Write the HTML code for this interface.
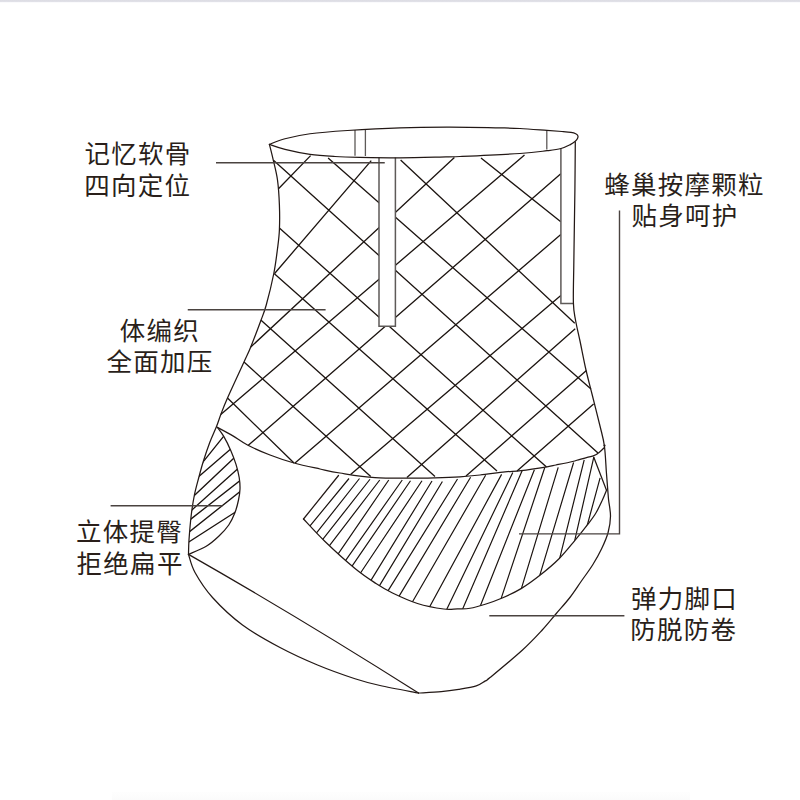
<!DOCTYPE html>
<html lang="zh"><head><meta charset="utf-8"><title>diagram</title>
<style>
html,body{margin:0;padding:0;background:#fff;font-family:"Liberation Sans",sans-serif;}
#wrap{position:relative;width:800px;height:800px;overflow:hidden;background:#fff;}
#topbar{position:absolute;left:0;top:0;width:800px;height:3px;background:linear-gradient(#dcdce3 0,#e1e1e8 1.7px,#fafafc 2.5px,#ffffff 3px);}
#botbar{position:absolute;left:112px;top:792px;width:578px;height:8px;background:linear-gradient(#fefefe,#fbfbfb);}
svg{position:absolute;left:0;top:0;display:block}
</style></head><body>
<div id="wrap">
<div id="topbar"></div><div id="botbar"></div>
<svg role="img" aria-label="塑身裤结构示意图" width="800" height="800" viewBox="0 0 800 800">
<defs><clipPath id="padclip"><path d="M338.5 470L303.5 519C307.08 522.75 316.42 533.25 325 541.5C333.58 549.75 346.5 561.5 355 568.5C363.5 575.5 369.75 579.42 376 583.5C382.25 587.58 385.58 589.67 392.5 593C399.42 596.33 408.96 600.83 417.5 603.5C426.04 606.17 437.08 608.12 443.75 609C450.42 609.88 453.12 608.92 457.5 608.8C461.88 608.67 465.25 609.05 470 608.25C474.75 607.45 480.73 605.66 486 604C491.27 602.34 495.75 600.87 501.6 598.3C507.45 595.73 514.6 592.52 521.1 588.6C527.6 584.68 534.23 579.77 540.6 574.75C546.97 569.73 553.61 564.19 559.3 558.5C564.99 552.81 570.01 546.28 574.75 540.6C579.49 534.92 584.23 529 587.75 524.4C591.27 519.8 593.46 517.07 595.9 513C598.34 508.93 600.63 503.8 602.4 500C604.17 496.2 605.82 491.83 606.5 490.2L593.8 452Z"/></clipPath><clipPath id="hipclip"><path d="M216.5 426.5C215.38 429.17 211.97 436.62 209.75 442.5C207.53 448.38 205.02 455.92 203.2 461.75C201.38 467.58 200.27 471.96 198.8 477.5C197.33 483.04 195.66 488.75 194.4 495C193.14 501.25 192.15 507.5 191.25 515C190.35 522.5 189.46 533.43 189 540C188.54 546.57 188.58 552 188.5 554.4C191.46 553.04 201.21 549.27 206.25 546.25C211.29 543.23 215 539.79 218.75 536.25C222.5 532.71 226.04 528.96 228.75 525C231.46 521.04 233.38 516.67 235 512.5C236.62 508.33 237.67 503.92 238.5 500C239.33 496.08 239.88 492.75 240 489C240.12 485.25 239.87 481.6 239.2 477.5C238.53 473.4 237.41 468.92 236 464.4C234.59 459.88 232.79 455.07 230.75 450.4C228.71 445.73 225.99 440.25 223.75 436.4C221.51 432.55 218.38 428.82 217.3 427.3Z"/></clipPath></defs>
<g fill="none" stroke="#1c1410" stroke-width="1.32" stroke-linecap="butt">
<path d="M273.75 160.6L598 453M328.1 158.1L591 389M279.4 228L546.5 467M274.4 273.75L497 471M260.8 320L435 476.5M400.6 160L574.75 323.25M481 158L560.8 221.75M244 362L370.75 476.6M227.5 398L294 463M278.5 188.75L310.6 155.6M274.4 273.75L371.25 160.6M250.75 347L454.4 157.5M220.75 414.5L524.5 155M248 445.5L560.8 173.75M295 463L560.8 234.5M350.6 474.4L560.8 295.5M406.9 477.6L575.2 328.8M466 476L586.4 370.4M517 471L593.6 404"/>
</g>
<g fill="none" stroke="#1c1410" stroke-width="1.2">
<path stroke-width="1.35" clip-path="url(#hipclip)" d="M201.32 464.09L224.78 434.91M196.53 478.57L231.27 448.43M192.22 497.56L235.08 457.04M190.27 511.4L238.63 468M188.89 520.6L240.66 480.15M187.65 533.11L240.45 491.24M186.48 543.52L236.27 511.48"/>
<path clip-path="url(#padclip)" d="M349 478.5L306.94 529.63M359.5 478.5L313.78 536.46M370 479.25L319.8 543.22M379.75 480L326.6 549.26M388.75 480L335.11 558.45M402.25 480L341.8 565.91M410.5 480.75L348.61 571.2M422 480.75L357.67 577.24M432 481L369.11 583.36M442.4 481.5L378.15 587.89M457.5 479L387.83 591.1M470.6 477.2L397.91 598.14M485.6 475.3L410.5 605.19M501.6 474.4L427.44 610.87M512.8 472.5L444.59 613.8M522.2 470.6L461.73 611.11M534.4 469.7L479.69 607.48M544.7 467.8L500.6 600.09M558.2 467.3L520.46 591.64M573.6 462.5L538.28 580.45M584.2 459.9L557.55 566.82M593.8 457.2L573.16 547.35M600.1 477.9L585.83 530.49"/>
</g>
<g fill="#fff" stroke="#5e5a58" stroke-width="1.5" stroke-linejoin="miter">
<path d="M379 157.4V326.2H395.4V157.6"/>
<path d="M560.9 148.6V303.4H573.6"/>
</g>
<g fill="none" stroke="#5e5a58" stroke-width="1.3">
<path d="M355 129.9L355 155.7M365.4 129.5L365.4 155.9M546.8 130.6L546.8 149.6"/>
</g>
<g fill="none" stroke="#231815" stroke-width="1.25" stroke-linejoin="round" stroke-linecap="round">
<path d="M269.4 144.4C272 143.46 278.23 140.53 285 138.75C291.77 136.97 299.58 135.12 310 133.75C320.42 132.38 332.5 131.49 347.5 130.5C362.5 129.51 382.92 128.35 400 127.8C417.08 127.25 433.33 127.18 450 127.2C466.67 127.22 488.33 127.68 500 127.9C511.67 128.12 512.17 128.08 520 128.5C527.83 128.92 540 129.9 547 130.4C554 130.9 558 131.17 562 131.5C566 131.83 568.72 132.03 571 132.4C573.28 132.77 574.55 133.12 575.7 133.7C576.85 134.28 577.6 135.1 577.9 135.9C578.2 136.7 577.93 137.6 577.5 138.5C577.07 139.4 576.5 140.28 575.3 141.3C574.1 142.32 572.68 143.4 570.3 144.6C567.92 145.8 564.88 147.48 561 148.5C557.12 149.52 553.83 149.87 547 150.7C540.17 151.53 534.5 152.53 520 153.5C505.5 154.47 473.33 155.9 460 156.5C446.67 157.1 450 156.89 440 157.1C430 157.31 413.33 157.72 400 157.75C386.67 157.78 370.83 157.51 360 157.3C349.17 157.09 343.33 156.98 335 156.5C326.67 156.02 318.33 155.58 310 154.4C301.67 153.22 291.77 151.07 285 149.4C278.23 147.73 272 145.23 269.4 144.4"/>
<path d="M269.4 144.4C270.02 146.9 271.75 153.47 273.1 159.4C274.45 165.33 276.45 172.4 277.5 180C278.55 187.6 279.08 196.67 279.4 205C279.72 213.33 279.72 222.71 279.4 230C279.08 237.29 278.44 241.46 277.5 248.75C276.56 256.04 275.62 264.38 273.75 273.75C271.88 283.12 268.43 297.12 266.25 305C264.07 312.88 263.28 314 260.7 321C258.12 328 253.53 340.17 250.75 347C247.97 353.83 247.88 353.5 244 362C240.12 370.5 231.33 389.33 227.5 398C223.67 406.67 222.83 409.25 221 414C219.17 418.75 218.38 421.75 216.5 426.5C214.62 431.25 211.97 436.62 209.75 442.5C207.53 448.38 205.02 455.92 203.2 461.75C201.38 467.58 200.27 471.96 198.8 477.5C197.33 483.04 195.66 488.75 194.4 495C193.14 501.25 192.15 507.5 191.25 515C190.35 522.5 189.46 533.43 189 540C188.54 546.57 188.58 552 188.5 554.4"/>
<path d="M575.3 142C575.23 150 575.07 175.33 574.9 190C574.73 204.67 574.48 217.5 574.3 230C574.12 242.5 573.95 252.83 573.8 265C573.65 277.17 573.12 293.83 573.4 303C573.68 312.17 574.4 313.67 575.5 320C576.6 326.33 578.25 332.67 580 341C581.75 349.33 584 361.17 586 370C588 378.83 589.67 384.67 592 394C594.33 403.33 597.93 417.33 600 426C602.07 434.67 603.33 438.25 604.4 446C605.47 453.75 605.83 465.1 606.4 472.5C606.97 479.9 607.43 485.82 607.8 490.4C608.17 494.98 608.15 495.69 608.6 500C609.05 504.31 610.58 510.83 610.5 516.25C610.42 521.67 609.58 527.08 608.1 532.5C606.62 537.92 604.18 543.33 601.6 548.75C599.02 554.17 595.99 559.58 592.6 565C589.21 570.42 585.03 575.83 581.25 581.25C577.47 586.67 574.09 592.08 569.9 597.5C565.71 602.92 560.71 608.33 556.1 613.75C551.49 619.17 547.85 623.96 542.25 630C536.65 636.04 531.21 642.07 522.5 650C513.79 657.93 496.25 672.42 490 677.6C483.75 682.78 487.29 679.72 485 681.1C482.71 682.48 480.62 684.52 476.25 685.9C471.88 687.28 464.58 688.43 458.75 689.4C452.92 690.37 447.96 691.1 441.25 691.7C434.54 692.3 422.29 692.78 418.5 693"/>
<path d="M418.5 693C412.08 691.75 390.58 687.88 380 685.5C369.42 683.12 365.42 682.17 355 678.75C344.58 675.33 330 670.21 317.5 665C305 659.79 292.5 654.17 280 647.5C267.5 640.83 253.75 633.33 242.5 625C231.25 616.67 220.42 606.25 212.5 597.5C204.58 588.75 199 579.68 195 572.5C191 565.32 189.58 557.42 188.5 554.4"/>
<path d="M188.5 554.4Q300 618 418.5 693"/>
<path d="M217.3 427.3C219.83 428.68 227.47 432.65 232.5 435.6C237.53 438.55 241.25 441.77 247.5 445C253.75 448.23 262.25 452 270 455C277.75 458 285.67 460.67 294 463C302.33 465.33 312.33 467.33 320 469C327.67 470.67 330.83 471.57 340 473C349.17 474.43 362.08 476.75 375 477.6C387.92 478.45 407.5 478.05 417.5 478.1C427.5 478.15 427.92 478.12 435 477.9C442.08 477.68 452.5 477.28 460 476.8C467.5 476.32 472.5 475.82 480 475C487.5 474.18 498.17 472.63 505 471.9C511.83 471.17 514 471.45 521 470.6C528 469.75 541.17 467.73 547 466.8C552.83 465.87 551.75 465.88 556 465C560.25 464.12 568.5 462.45 572.5 461.5C576.5 460.55 576.45 460.28 580 459.3C583.55 458.32 590.8 456.6 593.8 455.6C596.8 454.6 596.23 454.65 598 453.3C599.77 451.95 603.33 448.47 604.4 447.5"/>
<path d="M217.3 427.3C218.38 428.82 221.51 432.55 223.75 436.4C225.99 440.25 228.71 445.73 230.75 450.4C232.79 455.07 234.59 459.88 236 464.4C237.41 468.92 238.53 473.4 239.2 477.5C239.87 481.6 240.12 485.25 240 489C239.88 492.75 239.33 496.08 238.5 500C237.67 503.92 236.62 508.33 235 512.5C233.38 516.67 231.46 521.04 228.75 525C226.04 528.96 222.5 532.71 218.75 536.25C215 539.79 211.29 543.23 206.25 546.25C201.21 549.27 191.46 553.04 188.5 554.4"/>
<path d="M303.5 519C307.08 522.75 316.42 533.25 325 541.5C333.58 549.75 346.5 561.5 355 568.5C363.5 575.5 369.75 579.42 376 583.5C382.25 587.58 385.58 589.67 392.5 593C399.42 596.33 408.96 600.83 417.5 603.5C426.04 606.17 437.08 608.12 443.75 609C450.42 609.88 453.12 608.92 457.5 608.8C461.88 608.67 465.25 609.05 470 608.25C474.75 607.45 480.73 605.66 486 604C491.27 602.34 495.75 600.87 501.6 598.3C507.45 595.73 514.6 592.52 521.1 588.6C527.6 584.68 534.23 579.77 540.6 574.75C546.97 569.73 553.61 564.19 559.3 558.5C564.99 552.81 570.01 546.28 574.75 540.6C579.49 534.92 584.23 529 587.75 524.4C591.27 519.8 593.46 517.07 595.9 513C598.34 508.93 600.63 503.8 602.4 500C604.17 496.2 605.82 491.83 606.5 490.2"/>
<path d="M338.5 475.5L303.5 519"/>
<path d="M593.8 457.2L606.5 490.2"/>
</g>
<circle cx="604.5" cy="445.6" r="1.1" fill="#231815"/>
<g fill="none" stroke="#4a4340" stroke-width="1.4">
<path d="M216 162.75H384.75M187.75 309.75H325.6M110.6 505.7H222.5M619.5 210.4V533.9H519M489.3 615.7H624.4"/>
</g>
<g font-family="'Liberation Sans', 'Noto Sans CJK SC', sans-serif" font-size="25.5" letter-spacing="1.28" fill="#2a1f1a">
<text x="84.54" y="163.08">记忆软骨</text>
<text x="84.21" y="194.8">四向定位</text>
<text x="119.71" y="339.64">体编织</text>
<text x="106.53" y="370.82">全面加压</text>
<text x="76.07" y="541.1">立体提臀</text>
<text x="76.55" y="572.86">拒绝扁平</text>
<text x="604.2" y="193.74">蜂巢按摩颗粒</text>
<text x="631.4" y="224.86">贴身呵护</text>
<text x="630.95" y="607.84">弹力脚口</text>
<text x="630.29" y="638.51">防脱防卷</text>
</g>
</svg>
</div>
</body></html>
